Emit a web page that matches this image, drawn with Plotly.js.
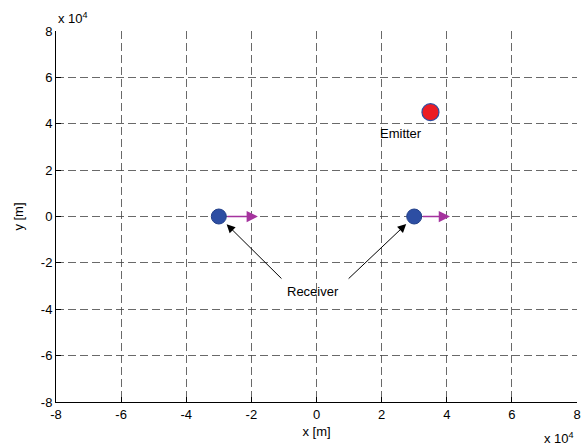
<!DOCTYPE html>
<html><head><meta charset="utf-8">
<script src="https://cdn.plot.ly/plotly-3.0.1.min.js"></script>
<style>body{margin:0;background:#fff}#c{width:585px;height:448px}</style>
</head><body><div id="c"></div>
<script>
const tickVals = [-80000,-60000,-40000,-20000,0,20000,40000,60000,80000];
const tickText = ['-8','-6','-4','-2','0','2','4','6','8'];
const receiverX = [-30000, 30000];
const receiverY = [0, 0];
const velocityEndX = [-18000, 41000];
const velocityEndY = [0, 0];
const emitterX = [35000];
const emitterY = [45000];
const emitterLabel = {x: 26000, y: 35800, text: 'Emitter'};
const receiverLabel = {x: -1000, y: -32500, text: 'Receiver'};
const receiverArrowTailX = [-10300, 9400];
const receiverArrowTailY = [-27400, -27400];

const font = {family: 'Liberation Sans, Arial, sans-serif', size: 13, color: '#000'};

const traces = [
  {x: receiverX, y: receiverY, mode: 'markers', type: 'scatter',
   marker: {size: 15, color: '#2d4ea3', line: {color: '#22408a', width: 1}}, hoverinfo: 'none'},
  {x: emitterX, y: emitterY, mode: 'markers', type: 'scatter',
   marker: {size: 17, color: '#ec1c24', line: {color: '#2d4ea3', width: 1.2}}, hoverinfo: 'none'}
];

const annotations = [];
for (let i = 0; i < receiverX.length; i++) {
  annotations.push({x: velocityEndX[i], y: velocityEndY[i], ax: receiverX[i], ay: receiverY[i],
    xref: 'x', yref: 'y', axref: 'x', ayref: 'y', text: '', showarrow: true,
    arrowhead: 2, arrowsize: 1.5, arrowwidth: 1.5, arrowcolor: '#a5339e', startstandoff: 7});
  annotations.push({x: receiverX[i], y: receiverY[i], ax: receiverArrowTailX[i], ay: receiverArrowTailY[i],
    xref: 'x', yref: 'y', axref: 'x', ayref: 'y', text: '', showarrow: true,
    arrowhead: 2, arrowsize: 1.7, arrowwidth: 1, arrowcolor: '#000', standoff: 11});
}
annotations.push({x: emitterLabel.x, y: emitterLabel.y, xref: 'x', yref: 'y', text: emitterLabel.text, showarrow: false, font: font});
annotations.push({x: receiverLabel.x, y: receiverLabel.y, xref: 'x', yref: 'y', text: receiverLabel.text, showarrow: false, font: font});
annotations.push({x: 0, y: 1.008, xref: 'paper', yref: 'paper', xanchor: 'left', yanchor: 'bottom', text: 'x 10<sup>4</sup>', showarrow: false, font: font});
annotations.push({x: 0.998, y: -0.07, xref: 'paper', yref: 'paper', xanchor: 'right', yanchor: 'top', text: 'x 10<sup>4</sup>', showarrow: false, font: font});

const axisCommon = {
  tickvals: tickVals, ticktext: tickText, ticks: 'inside', ticklen: 5, tickcolor: '#000',
  showgrid: true, gridcolor: '#444', griddash: '8px,4px', gridwidth: 0.8,
  zeroline: false, showline: true, linecolor: '#000', linewidth: 1, mirror: false,
  tickfont: font, fixedrange: true
};

const layout = {
  width: 585, height: 448,
  margin: {l: 56, r: 8, t: 31, b: 46},
  paper_bgcolor: '#fff', plot_bgcolor: '#fff',
  showlegend: false,
  font: font,
  xaxis: Object.assign({}, axisCommon, {range: [-80000, 80000], title: {text: 'x [m]', font: font, standoff: 6}}),
  yaxis: Object.assign({}, axisCommon, {range: [-80000, 80000], title: {text: 'y [m]', font: font, standoff: 14}}),
  annotations: annotations
};

Plotly.newPlot('c', traces, layout, {staticPlot: true});
</script>
</body></html>
